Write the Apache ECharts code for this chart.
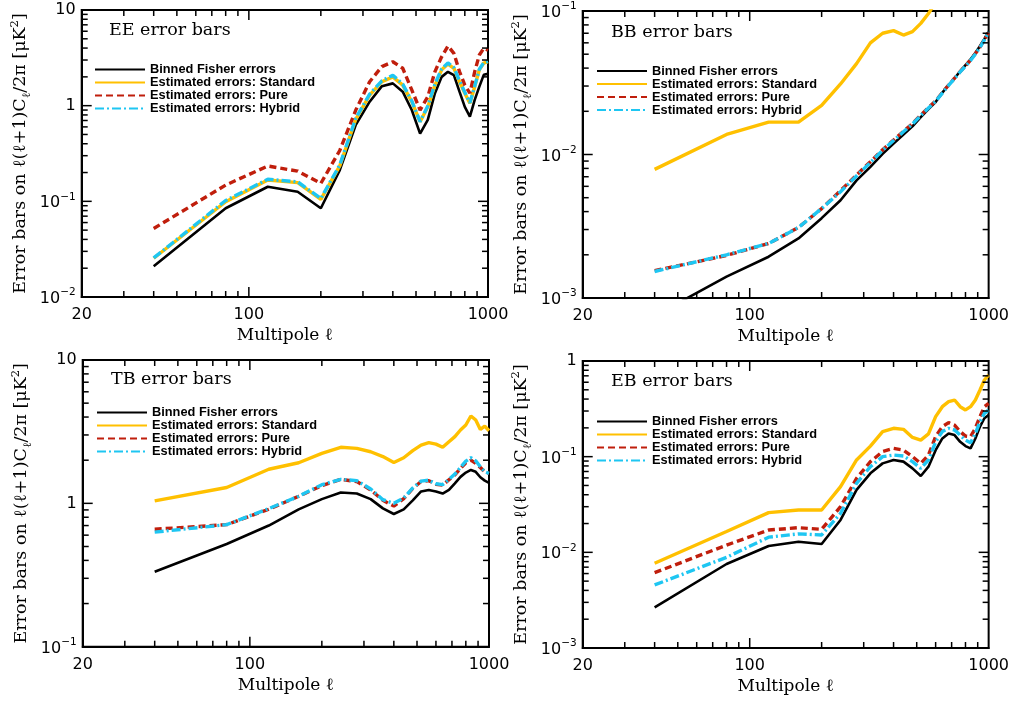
<!DOCTYPE html>
<html><head><meta charset="utf-8">
<script src="https://cdn.jsdelivr.net/npm/echarts@6/dist/echarts.min.js"></script>
<style>html,body{margin:0;padding:0;background:#fff}#c{width:1012px;height:701px}</style>
</head><body><div id="c"></div>
<script>
// ---------- data ----------
const multipoles = [40,80,120,160,200,240,280,320,360,400,440,480,520,560,600,640,680,720,760,800,840,880,920,960,1000];
const seriesNames = ['Binned Fisher errors','Estimated errors: Standard','Estimated errors: Pure','Estimated errors: Hybrid'];

const eeFisher   = [0.021,0.0846,0.142,0.126,0.0846,0.212,0.63,1.10,1.60,1.71,1.40,0.90,0.51,0.71,1.35,2.0,2.26,2.09,1.40,0.97,0.77,1.15,1.58,2.1,2.15];
const eeStandard = [0.0254,0.099,0.167,0.157,0.105,0.235,0.72,1.29,1.78,2.0,1.64,1.1,0.68,0.97,1.64,2.37,2.72,2.46,1.78,1.35,1.06,1.58,2.37,2.79,2.88];
const eePure     = [0.052,0.148,0.234,0.207,0.154,0.34,0.9,1.78,2.56,2.88,2.46,1.46,0.9,1.24,2.27,3.24,4.2,3.52,2.27,1.64,1.35,2.27,3.39,3.98,3.8];
const eeHybrid   = [0.0256,0.102,0.17,0.16,0.107,0.24,0.74,1.32,1.82,2.08,1.68,1.12,0.68,0.99,1.68,2.42,2.8,2.5,1.82,1.38,1.07,1.6,2.4,2.82,2.9];

const bbFisher   = [0.00075,0.00141,0.00194,0.0026,0.0036,0.0048,0.0066,0.0082,0.0101,0.0119,0.0138,0.0157,0.0182,0.0207,0.0232,0.027,0.0305,0.034,0.038,0.042,0.046,0.051,0.057,0.064,0.072];
const bbStandard = [0.00788,0.0138,0.0168,0.0168,0.022,0.031,0.043,0.060,0.070,0.073,0.068,0.0718,0.082,0.096,0.115,0.13,0.15,0.17,0.19,0.21,0.23,0.26,0.29,0.32,0.36];
const bbPure     = [0.00155,0.00198,0.0024,0.0031,0.0042,0.0056,0.0072,0.0089,0.0108,0.0126,0.0145,0.0164,0.0188,0.0212,0.0236,0.027,0.0305,0.034,0.0378,0.0415,0.0455,0.0505,0.056,0.063,0.071];
const bbHybrid   = [0.00153,0.002,0.0024,0.0031,0.0042,0.0055,0.0071,0.0088,0.0107,0.0125,0.0144,0.0163,0.0187,0.0211,0.0235,0.0268,0.0303,0.0338,0.0376,0.0413,0.0452,0.0502,0.0558,0.0628,0.0715];

const tbFisher   = [0.333,0.52,0.70,0.908,1.07,1.19,1.17,1.07,0.923,0.843,0.908,1.05,1.21,1.24,1.21,1.17,1.24,1.38,1.53,1.64,1.71,1.66,1.52,1.44,1.39];
const tbStandard = [1.04,1.29,1.73,1.92,2.23,2.46,2.42,2.29,2.12,1.93,2.08,2.33,2.55,2.65,2.59,2.46,2.69,2.92,3.25,3.52,4.07,3.81,3.28,3.46,3.21];
const tbPure     = [0.66,0.71,0.91,1.12,1.33,1.47,1.42,1.24,1.05,0.957,1.08,1.27,1.42,1.44,1.36,1.34,1.46,1.58,1.75,1.92,2.0,1.9,1.78,1.66,1.62];
const tbHybrid   = [0.63,0.71,0.92,1.12,1.35,1.47,1.44,1.26,1.06,1.0,1.09,1.28,1.43,1.45,1.37,1.35,1.47,1.6,1.78,1.97,2.08,1.98,1.8,1.66,1.62];

const ebFisher   = [0.00266,0.00755,0.01164,0.0129,0.0122,0.0218,0.0449,0.067,0.0851,0.0923,0.0887,0.0755,0.0628,0.0786,0.117,0.155,0.175,0.168,0.143,0.129,0.122,0.155,0.206,0.252,0.273];
const ebStandard = [0.0077,0.0165,0.026,0.0277,0.0277,0.0486,0.0923,0.129,0.1825,0.198,0.193,0.159,0.149,0.173,0.262,0.333,0.376,0.391,0.333,0.308,0.333,0.391,0.497,0.633,0.714];
const ebPure     = [0.00613,0.0119,0.0171,0.0181,0.0174,0.030,0.0594,0.0887,0.113,0.122,0.117,0.1,0.085,0.104,0.162,0.206,0.227,0.214,0.183,0.164,0.162,0.198,0.262,0.333,0.361];
const ebHybrid   = [0.00456,0.00887,0.0144,0.0156,0.0152,0.0256,0.0526,0.0786,0.1,0.104,0.1016,0.0887,0.0755,0.0923,0.143,0.183,0.198,0.19,0.168,0.149,0.14,0.175,0.232,0.284,0.308];

const xRange = [20, 1000];
const xTickLabels = [20, 100, 1000];
const xMajorTicks = [100];
const xMinorTicks = [30,40,50,60,70,80,90,200,300,400,500,600,700,800,900];
const yMinorMultipliers = [2,3,4,5,6,7,8,9];
const eeRange = [0.01, 10];
const bbRange = [0.001, 0.1];
const tbRange = [0.1, 10];
const ebRange = [0.001, 1];

// ---------- layout / style ----------
const panels = [
  {title:'EE error bars', range:eeRange, data:[eeFisher,eeStandard,eePure,eeHybrid],
   grid:{left:81.7, top:10, width:406.3, height:287}, titlePos:[109,21], legendPos:[94,63]},
  {title:'BB error bars', range:bbRange, data:[bbFisher,bbStandard,bbPure,bbHybrid],
   grid:{left:582.7, top:11, width:406.6, height:287}, titlePos:[611,23.5], legendPos:[596,64.5]},
  {title:'TB error bars', range:tbRange, data:[tbFisher,tbStandard,tbPure,tbHybrid],
   grid:{left:82.7, top:360, width:406.3, height:286.7}, titlePos:[111,370.5], legendPos:[96,406]},
  {title:'EB error bars', range:ebRange, data:[ebFisher,ebStandard,ebPure,ebHybrid],
   grid:{left:582.7, top:361, width:406.6, height:287}, titlePos:[611,372.5], legendPos:[596,415]}
];
const lineStyles = [
  {color:'#000000', width:2.6, type:'solid'},
  {color:'#FFC000', width:3.4, type:'solid'},
  {color:'#C01E0C', width:3.4, type:[7,4]},
  {color:'#1EC6F2', width:3.4, type:[9,3,2,3]}
];
const serif = 'DejaVu Serif';
const sans = 'DejaVu Sans';

function yLabel(v){
  const e = Math.round(Math.log10(v));
  if (e === 0) return '1';
  if (e === 1) return '10';
  return '{b|10}{s|' + (e < 0 ? '\u2212' + (-e) : e) + '}';
}

const option = {
  animation:false,
  backgroundColor:'#ffffff',
  title:[], legend:[], grid:[], xAxis:[], yAxis:[], series:[]
};

panels.forEach((p, i) => {
  option.grid.push(Object.assign({show:true, borderColor:'#000', borderWidth:2, backgroundColor:'transparent'}, p.grid));
  option.title.push({text:p.title, left:p.titlePos[0], top:p.titlePos[1], padding:0,
    textStyle:{fontFamily:serif, fontSize:17.5, fontWeight:'normal', color:'#000'}});
  option.legend.push({
    left:p.legendPos[0], top:p.legendPos[1], orient:'vertical', padding:0,
    itemWidth:50, itemHeight:12, itemGap:0, selectedMode:false,
    data:seriesNames.slice(),
    lineStyle:{width:2},
    itemStyle:{color:'rgba(0,0,0,0)', borderWidth:0, opacity:0},
    textStyle:{fontFamily:'Liberation Sans', fontWeight:'bold', fontSize:12.8, color:'#000', lineHeight:12}
  });
  option.xAxis.push({
    type:'log', logBase:10, gridIndex:i, min:xRange[0], max:xRange[1],
    axisLine:{show:true, lineStyle:{color:'#000', width:2}},
    axisTick:{show:false}, splitLine:{show:false}, minorTick:{show:false},
    axisLabel:{color:'#000', fontFamily:sans, fontSize:16, margin:10, showMinLabel:true, showMaxLabel:true,
      formatter:v => { const r = Math.round(v); return xTickLabels.indexOf(r) >= 0 ? String(r) : ''; }},
    name:'Multipole \u2113', nameLocation:'middle', nameGap:30,
    nameTextStyle:{color:'#000', fontFamily:serif, fontSize:17}
  });
  option.yAxis.push({
    type:'log', logBase:10, gridIndex:i, min:p.range[0], max:p.range[1],
    axisLine:{show:true, lineStyle:{color:'#000', width:2}},
    axisTick:{show:false}, splitLine:{show:false}, minorTick:{show:false},
    axisLabel:{color:'#000', fontFamily:sans, fontSize:16, margin:6, formatter:yLabel,
      rich:{b:{fontFamily:sans, fontSize:16, color:'#000', verticalAlign:'bottom', lineHeight:20},
            s:{fontFamily:sans, fontSize:10.5, color:'#000', verticalAlign:'top', lineHeight:20}}},
    name:'Error bars on \u2113(\u2113+1)C{sub|\u2113}/2\u03c0 [\u03bcK{sup|2}]',
    nameLocation:'middle', nameGap:49,
    nameTextStyle:{color:'#000', fontFamily:serif, fontSize:17.5,
      rich:{sub:{fontFamily:serif, fontSize:11.5, color:'#000', verticalAlign:'bottom', lineHeight:24},
            sup:{fontFamily:serif, fontSize:11.5, color:'#000', verticalAlign:'top', lineHeight:24}}}
  });
  p.data.forEach((vals, k) => {
    const st = lineStyles[k];
    option.series.push({
      type:'line', name:seriesNames[k], xAxisIndex:i, yAxisIndex:i,
      data:multipoles.map((l, j) => [l, vals[j]]),
      showSymbol:false, symbol:'none', clip:true, z:2+k,
      lineStyle:{color:st.color, width:st.width, type:st.type},
      itemStyle:{color:st.color}
    });
  });
  // ticks on all four sides, placed through the axes' scales
  const xt = xMinorTicks.map(v => [v, p.range[0], 6]).concat(xMajorTicks.map(v => [v, p.range[0], 10]));
  const yt = [];
  for (let d = p.range[0]; d < p.range[1] * 0.999; d *= 10) {
    if (d > p.range[0] * 1.001) yt.push([xRange[0], d, 10]);
    yMinorMultipliers.forEach(m => yt.push([xRange[0], m * d, 6]));
  }
  const yr = p.range;
  option.series.push({
    type:'custom', xAxisIndex:i, yAxisIndex:i, silent:true, z:10, clip:false,
    dimensions:['x','y','len'], encode:{x:0, y:1}, data:xt,
    renderItem:(params, api) => {
      const v = api.value(0), len = api.value(2);
      const b = api.coord([v, yr[0]]), t = api.coord([v, yr[1]]);
      return {type:'group', children:[
        {type:'line', shape:{x1:b[0], y1:b[1], x2:b[0], y2:b[1]-len}, style:{stroke:'#000', lineWidth:1.5}},
        {type:'line', shape:{x1:t[0], y1:t[1], x2:t[0], y2:t[1]+len}, style:{stroke:'#000', lineWidth:1.5}}
      ]};
    }
  });
  option.series.push({
    type:'custom', xAxisIndex:i, yAxisIndex:i, silent:true, z:10, clip:false,
    dimensions:['x','y','len'], encode:{x:0, y:1}, data:yt,
    renderItem:(params, api) => {
      const v = api.value(1), len = api.value(2);
      const l = api.coord([xRange[0], v]), r = api.coord([xRange[1], v]);
      return {type:'group', children:[
        {type:'line', shape:{x1:l[0], y1:l[1], x2:l[0]+len, y2:l[1]}, style:{stroke:'#000', lineWidth:1.5}},
        {type:'line', shape:{x1:r[0], y1:r[1], x2:r[0]-len, y2:r[1]}, style:{stroke:'#000', lineWidth:1.5}}
      ]};
    }
  });
});

const chart = echarts.init(document.getElementById('c'), null, {renderer:'canvas'});
chart.setOption(option);
</script>
</body></html>
